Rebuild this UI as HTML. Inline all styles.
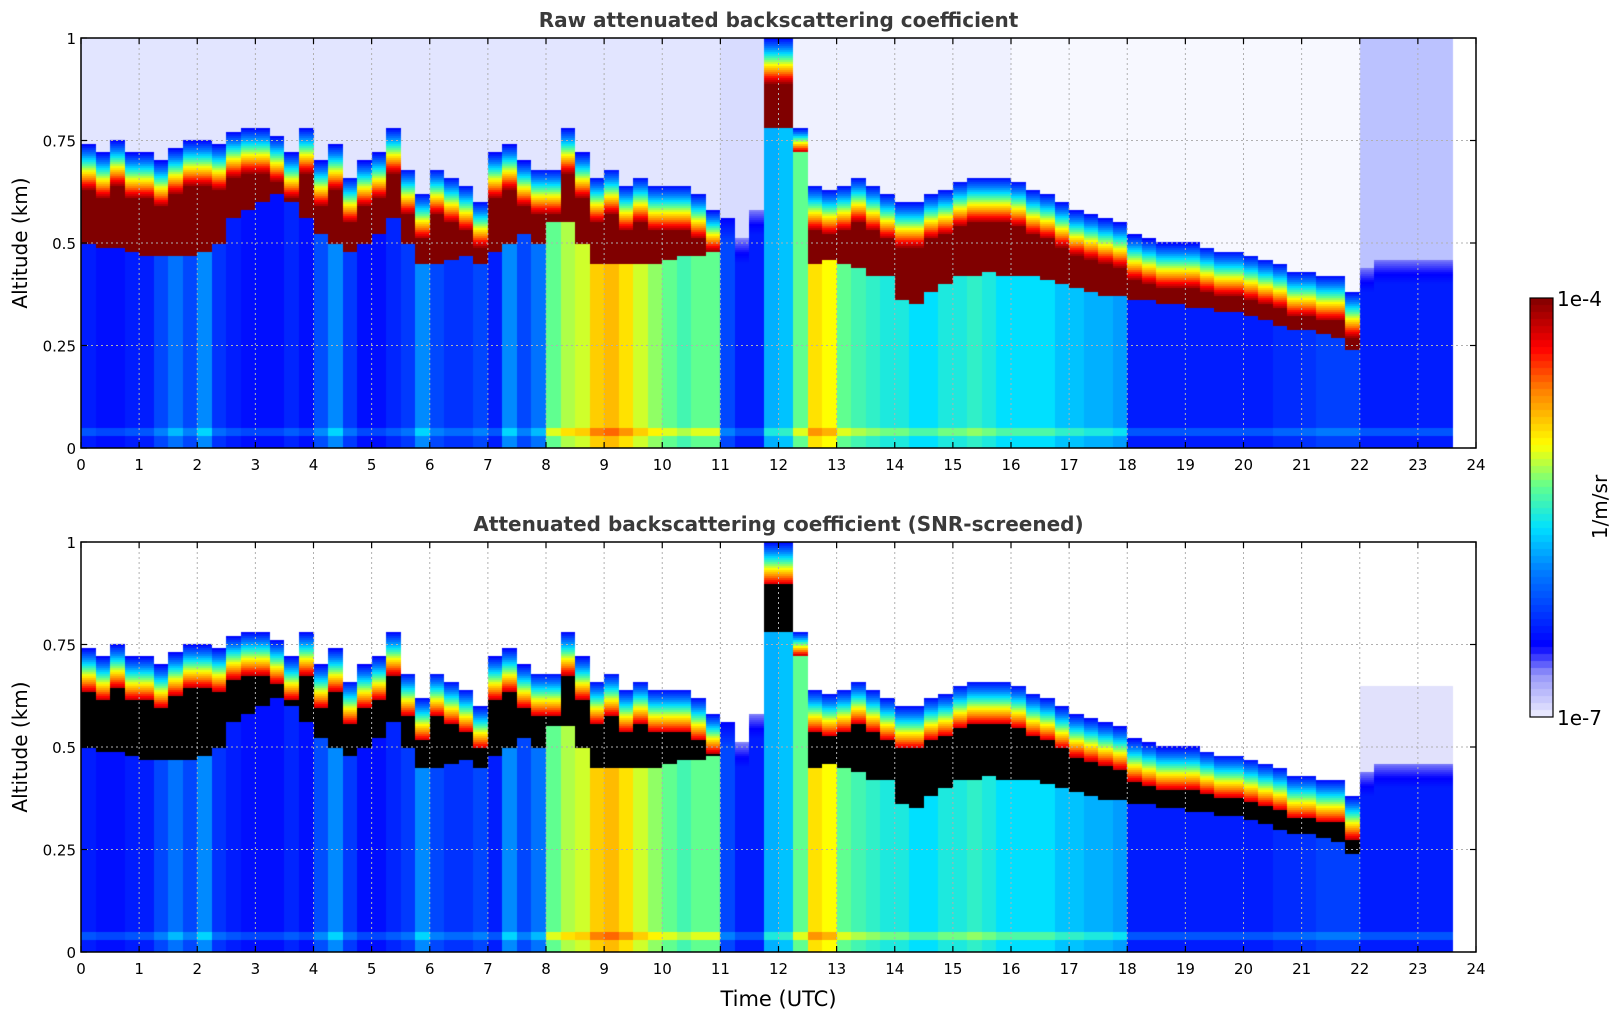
<!DOCTYPE html>
<html><head><meta charset="utf-8"><style>
html,body{margin:0;padding:0;background:#fff;}
#root{position:relative;width:1621px;height:1020px;overflow:hidden;font-family:"DejaVu Sans","Liberation Sans",sans-serif;}
canvas{position:absolute;}
svg{position:absolute;left:0;top:0;font-family:"DejaVu Sans","Liberation Sans",sans-serif;}
</style></head><body>
<div id="root">
<canvas id="c1" style="left:81px;top:38px" width="1395" height="410"></canvas>
<canvas id="c2" style="left:81px;top:542px" width="1395" height="410"></canvas>
<canvas id="cb" style="left:1530px;top:298px" width="23" height="419"></canvas>
<svg id="ov" width="1621" height="1020"></svg>
</div>
<script>
// ---- data (0.25 h sampling, start 0 h) ----
const times = [];
for (let i = 0; i < 95; i++) times.push(i * 0.25);
const cloudTop = [0.74,0.72,0.75,0.72, 0.72,0.70,0.73,0.75, 0.75,0.74,0.77,0.78, 0.78,0.76,0.72,0.78,
 0.70,0.74,0.66,0.70, 0.72,0.78,0.68,0.62, 0.68,0.66,0.64,0.60, 0.72,0.74,0.70,0.68,
 0.68,0.78,0.72,0.66, 0.68,0.64,0.66,0.64, 0.64,0.64,0.62,0.58, 0,0,0,1.0,
 1.0,0.78,0.64,0.63, 0.64,0.66,0.64,0.62, 0.60,0.60,0.62,0.63, 0.65,0.66,0.66,0.66,
 0.65,0.63,0.62,0.60, 0.58,0.57,0.56,0.55, 0.52,0.51,0.50,0.50, 0.50,0.49,0.48,0.48,
 0.47,0.46,0.45,0.43, 0.43,0.42,0.42,0.38, 0,0,0,0,0,0,0];
const cloudBase = [0.50,0.49,0.49,0.48, 0.47,0.47,0.47,0.47, 0.48,0.50,0.56,0.58, 0.60,0.62,0.60,0.56,
 0.52,0.50,0.48,0.50, 0.52,0.56,0.50,0.45, 0.45,0.46,0.47,0.45, 0.48,0.50,0.52,0.50,
 0.55,0.55,0.50,0.45, 0.45,0.45,0.45,0.45, 0.46,0.47,0.47,0.48, 0.50,0.45,0.52,0.78,
 0.78,0.72,0.45,0.46, 0.45,0.44,0.42,0.42, 0.36,0.35,0.38,0.40, 0.42,0.42,0.43,0.42,
 0.42,0.42,0.41,0.40, 0.39,0.38,0.37,0.37, 0.36,0.36,0.35,0.35, 0.34,0.34,0.33,0.33,
 0.32,0.31,0.30,0.29, 0.29,0.28,0.27,0.24, 0.38,0.40,0.40,0.40,0.40,0.40,0.40];
const aerosol = [0.21,0.19,0.19,0.21, 0.21,0.27,0.33,0.27, 0.36,0.24,0.21,0.19, 0.19,0.19,0.22,0.19,
 0.28,0.36,0.25,0.19, 0.19,0.22,0.25,0.36, 0.27,0.24,0.24,0.27, 0.21,0.36,0.27,0.33,
 0.55,0.60,0.62,0.70, 0.72,0.68,0.62,0.58, 0.55,0.52,0.55,0.55, 0.27,0.21,0.21,0.40,
 0.42,0.55,0.68,0.65, 0.55,0.52,0.50,0.48, 0.48,0.45,0.45,0.48, 0.48,0.50,0.48,0.45,
 0.45,0.45,0.45,0.42, 0.42,0.40,0.40,0.38, 0.21,0.21,0.21,0.21, 0.21,0.21,0.21,0.21,
 0.21,0.21,0.23,0.23, 0.24,0.26,0.26,0.26, 0.21,0.21,0.21,0.21,0.21,0.21,0.21];
const skyNoise = [];
for (let i = 0; i < 95; i++) skyNoise.push(i < 44 ? 0.15 : i < 48 ? 0.2 : i < 64 ? 0.08 : i < 88 ? 0.04 : 0.35);
const xTicks = [0,1,2,3,4,5,6,7,8,9,10,11,12,13,14,15,16,17,18,19,20,21,22,23,24];
const yTicks = [0,0.25,0.5,0.75,1];
const yTickLabels = ["0","0.25","0.5","0.75","1"];
const dataEnd = 23.6;

// ---- colormap ----
const stops = [[0,[238,238,255]],[0.1,[150,150,248]],[0.17,[0,0,255]],[0.35,[0,128,255]],[0.45,[0,224,255]],
 [0.55,[96,255,144]],[0.65,[255,255,0]],[0.78,[255,128,0]],[0.88,[255,0,0]],[1,[128,0,0]]];
function cmap(v){v=Math.max(0,Math.min(1,v));
 for(let k=1;k<stops.length;k++){if(v<=stops[k][0]){const a=stops[k-1],b=stops[k];const f=(v-a[0])/(b[0]-a[0]);
 return a[1].map((c,j)=>Math.round(c+(b[1][j]-c)*f));}} return stops[stops.length-1][1];}

const W=1395,H=410;
const xs=t=>t/24*W, ys=z=>H-z*H;
const GR=0.11;
function valueAt(i,z){
 const top=cloudTop[i],base=cloudBase[i],a=aerosol[i];
 if(top>0){
  if(z<base) return (z>0.03&&z<0.05)?a+0.08:a;
  const g0=Math.max(base,top-GR);
  if(z<=g0) return 1;
  if(z<=top) return 0.97-(z-g0)/(top-g0)*0.8;
  return null;
 } else {
  if(z<base) return (z>0.03&&z<0.05)?a+0.08:a;
  if(z<base+0.06) return a-(z-base)/0.06*0.1;
  return null;
 }
}
function draw(id,screened){
 const ctx=document.getElementById(id).getContext('2d');
 ctx.fillStyle='#fff';ctx.fillRect(0,0,W,H);
 for(let i=0;i<times.length;i++){
  const x0=Math.round(xs(times[i])),x1=Math.round(xs(Math.min(times[i]+0.25,dataEnd)));
  for(let py=0;py<H;py+=2){
   const z=1-(py+1)/H;
   let v=valueAt(i,z),col;
   if(v===null){
    if(screened){ if(skyNoise[i]>0.3&&z<0.65) col=[225,225,252]; else continue; }
    else { const s=skyNoise[i]; col=[Math.round(255-195*s),Math.round(255-175*s),255]; }
   } else if(screened&&v>=0.93) col=[0,0,0];
   else col=cmap(v);
   ctx.fillStyle='rgb('+col.join(',')+')';
   ctx.fillRect(x0,py,x1-x0,2);
  }
 }
}
draw('c1',false);draw('c2',true);
(function(){const ctx=document.getElementById('cb').getContext('2d');const n=60;
 for(let k=0;k<n;k++){const c=cmap((k+0.5)/n);ctx.fillStyle='rgb('+c.join(',')+')';
 const y0=Math.round(419-(k+1)*419/n),y1=Math.round(419-k*419/n);ctx.fillRect(0,y0,23,y1-y0);}})();

// ---- axes overlay ----
const NS='http://www.w3.org/2000/svg',ov=document.getElementById('ov');
function el(tag,attrs,txt){const e=document.createElementNS(NS,tag);for(const k in attrs)e.setAttribute(k,attrs[k]);if(txt!==undefined)e.textContent=txt;ov.appendChild(e);return e;}
function axes(top,name,title){
 const L=81,T=top;
 for(const t of xTicks){const x=L+xs(t);
  if(t>0&&t<24){const g=el('line',{x1:x,y1:T,x2:x,y2:T+H,stroke:'#b0b0b0','stroke-width':1,'stroke-dasharray':'2,3'});
  }
  const tk=el('line',{x1:x,y1:T+H,x2:x,y2:T+H-6,stroke:'#000','stroke-width':1.2});
  
  const tk2=el('line',{x1:x,y1:T,x2:x,y2:T+6,stroke:'#000','stroke-width':1.2});
  
  const lb=el('text',{x:x,y:T+H+22,'font-size':15,'text-anchor':'middle',fill:'#000'},String(t));
  }
 yTicks.forEach((v,k)=>{const y=T+ys(v);
  if(v>0&&v<1){const g=el('line',{x1:L,y1:y,x2:L+W,y2:y,stroke:'#b0b0b0','stroke-width':1,'stroke-dasharray':'2,3'});
  }
  const tk=el('line',{x1:L,y1:y,x2:L+6,y2:y,stroke:'#000','stroke-width':1.2});
  
  const tk2=el('line',{x1:L+W,y1:y,x2:L+W-6,y2:y,stroke:'#000','stroke-width':1.2});
  
  const lb=el('text',{x:L-5,y:y+6,'font-size':15,'text-anchor':'end',fill:'#000'},yTickLabels[k]);
  });
 const fr=el('rect',{x:L,y:T,width:W,height:H,fill:'none',stroke:'#000','stroke-width':1.5});
 
 const tt=el('text',{x:L+W/2,y:T-11,'font-size':20,'font-weight':'bold','text-anchor':'middle',fill:'#3a3a3a'},title);
 
 const yl=el('text',{x:0,y:0,'font-size':20,'text-anchor':'middle',fill:'#000',transform:'translate(27,'+(T+H/2)+') rotate(-90)'},'Altitude (km)');
 
}
axes(38,'raw-panel','Raw attenuated backscattering coefficient');
axes(542,'screened-panel','Attenuated backscattering coefficient (SNR-screened)');
const xl=el('text',{x:81+W/2,y:1006,'font-size':21,'text-anchor':'middle',fill:'#000'},'Time (UTC)');

const cf=el('rect',{x:1530,y:298,width:23,height:419,fill:'none',stroke:'#000','stroke-width':1.2});

const c1=el('text',{x:1557,y:306,'font-size':20,fill:'#000'},'1e-4');

const c2=el('text',{x:1557,y:725,'font-size':20,fill:'#000'},'1e-7');

const cu=el('text',{x:0,y:0,'font-size':20,'text-anchor':'middle',fill:'#000',transform:'translate(1607,507) rotate(-90)'},'1/m/sr');

</script>
</body></html>
